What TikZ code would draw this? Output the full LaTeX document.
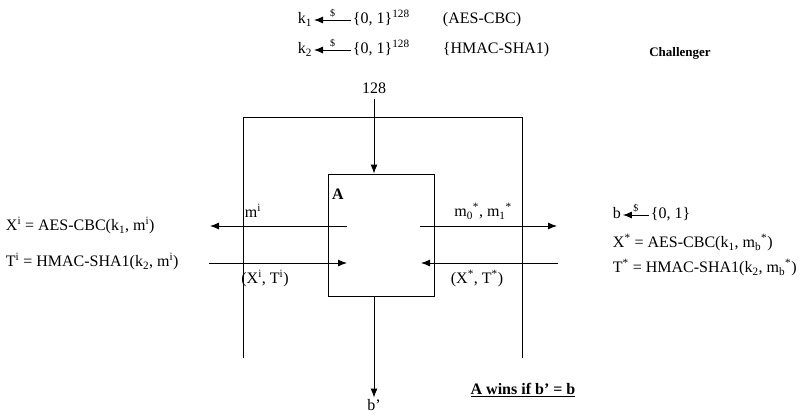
\documentclass[tikz,border=0pt]{standalone}
\usepackage{fontspec}
\setmainfont{Liberation Serif}
\usetikzlibrary{arrows.meta}
\tikzset{
  txt/.style={font=\fontsize{16}{19}\selectfont, inner sep=1.5pt, text height=11pt, text depth=4pt},
  msg/.style={-{Latex[length=9pt,width=7pt]}},
  rnd/.style={midway,above=-1pt,font=\fontsize{10}{12}\selectfont},
}
\begin{document}
\begin{tikzpicture}[x=1pt,y=-1pt,line width=0.9pt]
  \useasboundingbox (0,0) rectangle (800,418);
  % key generation
  \node[txt,anchor=west] (k1) at (296,20) {k\textsubscript{1}};
  \node[txt,anchor=west] (set1) at (351,20) {\{0, 1\}\textsuperscript{128}};
  \node[txt,anchor=west] (aes) at (441,20) {(AES-CBC)};
  \node[txt,anchor=west] (k2) at (296,50) {k\textsubscript{2}};
  \node[txt,anchor=west] (set2) at (351,50) {\{0, 1\}\textsuperscript{128}};
  \node[txt,anchor=west] (hmac) at (441,50) {\{HMAC-SHA1)};
  \draw[msg] (set1.west) -- (k1.east) node[rnd] (dol1) {\$};
  \draw[msg] (set2.west) -- (k2.east) node[rnd] (dol2) {\$};
  \node[font=\bfseries\fontsize{13}{15}\selectfont] (chal) at (680,53) {Challenger};
  % challenger frame
  \coordinate (fbl) at (243,358);
  \coordinate (ftl) at (243,117);
  \coordinate (ftr) at (522,117);
  \coordinate (fbr) at (522,358);
  \draw (fbl) -- (ftl) -- (ftr) -- (fbr);
  % adversary
  \node[draw,minimum width=106pt,minimum height=122pt] (boxA) at (381,235) {};
  \node[txt,font=\bfseries\fontsize{16}{19}\selectfont] (lblA) at (338,196) {A};
  \node[txt] (sec) at (374,90) {128};
  \draw[msg] (sec) -- (sec |- boxA.north);
  \node[txt] (bout) at (374,407) {b’};
  \draw[msg] (bout |- boxA.south) -- (bout);
  % oracle queries
  \coordinate (qa) at (347,226);
  \coordinate (qb) at (210,226);
  \coordinate (ra) at (209,263);
  \coordinate (rb) at (347,263);
  \draw[msg] (qa) -- (qb);
  \draw[msg] (ra) -- (rb);
  \node[txt] (mi) at (253,214) {m\textsuperscript{i}};
  \node[txt] (xti) at (265,280) {(X\textsuperscript{i}, T\textsuperscript{i})};
  % challenge
  \coordinate (ca) at (420,226);
  \coordinate (cb) at (557,226);
  \coordinate (da) at (558,263);
  \coordinate (db) at (421,263);
  \draw[msg] (ca) -- (cb);
  \draw[msg] (da) -- (db);
  \node[txt] (m01) at (483,213) {m\textsubscript{0}\textsuperscript{*}, m\textsubscript{1}\textsuperscript{*}};
  \node[txt] (xts) at (477,280) {(X\textsuperscript{*}, T\textsuperscript{*})};
  % oracle answers
  \node[txt,anchor=west] (xi) at (4,227) {X\textsuperscript{i} = AES-CBC(k\textsubscript{1}, m\textsuperscript{i})};
  \node[txt,anchor=west] (ti) at (4,263) {T\textsuperscript{i} = HMAC-SHA1(k\textsubscript{2}, m\textsuperscript{i})};
  \node[txt,anchor=west] (bb) at (611,215) {b};
  \node[txt,anchor=west] (setb) at (649,215) {\{0, 1\}};
  \draw[msg] (setb.west) -- (bb.east) node[rnd] (dolb) {\$};
  \node[txt,anchor=west] (xs) at (611,244) {X\textsuperscript{*} = AES-CBC(k\textsubscript{1}, m\textsubscript{b}\textsuperscript{*})};
  \node[txt,anchor=west] (ts) at (611,269) {T\textsuperscript{*} = HMAC-SHA1(k\textsubscript{2}, m\textsubscript{b}\textsuperscript{*})};
  \node[txt,font=\bfseries\fontsize{16}{19}\selectfont] (win) at (523,391) {\underline{A wins if b’ = b}};
\end{tikzpicture}
\end{document}
